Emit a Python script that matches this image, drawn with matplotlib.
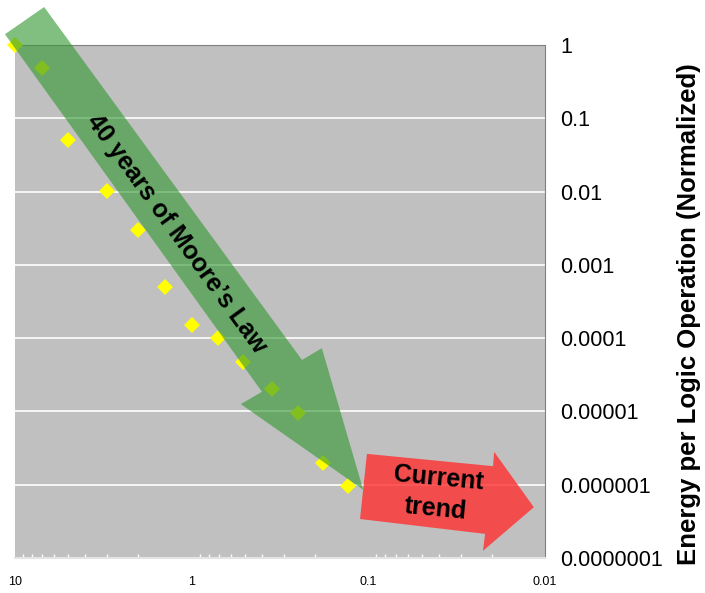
import matplotlib
matplotlib.use("Agg")
import matplotlib.pyplot as plt
from matplotlib.patches import Polygon
from matplotlib.ticker import FixedLocator, FixedFormatter, LogLocator, NullFormatter

plt.rcParams['font.family'] = ['Liberation Sans', 'DejaVu Sans']

# data
feature_size = [10, 7.0, 5.0, 3.0, 2.0, 1.42, 1.0, 0.71, 0.51, 0.35, 0.25, 0.18, 0.13]
energy = [1.0, 0.49, 0.05, 0.0102, 0.003, 5.0e-4, 1.5e-4, 1.0e-4, 4.8e-5, 2.0e-5, 9.5e-6, 2.0e-6, 9.6e-7]

x_ticks = [10, 1, 0.1, 0.01]
x_labels = ['10', '1', '0.1', '0.01']
y_ticks = [1, 0.1, 0.01, 0.001, 0.0001, 0.00001, 0.000001, 0.0000001]
y_labels = ['1', '0.1', '0.01', '0.001', '0.0001', '0.00001', '0.000001', '0.0000001']

# arrow outlines in axes fraction (annotation shapes)
green_arrow = [(-0.019, 1.021), (0.055, 1.074), (0.5415, 0.386), (0.579, 0.409),
               (0.657, 0.133), (0.426, 0.300), (0.466, 0.324)]
red_arrow = [(0.664, 0.203), (0.902, 0.179), (0.904, 0.207), (0.979, 0.099),
             (0.883, 0.014), (0.887, 0.047), (0.651, 0.076)]

fig = plt.figure(figsize=(7.05, 5.93), dpi=100)
ax = fig.add_axes([15/705, 35/593, 530/705, 513/593])
ax.set_facecolor('#c0c0c0')

ax.set_xscale('log')
ax.set_yscale('log')
ax.set_xlim(10, 0.01)
ax.set_ylim(1e-7, 1)

ax.plot(feature_size, energy, linestyle='none', marker='D', markersize=8.5,
        color='#ffff00', markeredgewidth=0, clip_on=False, zorder=3)

for y in y_ticks[1:-1]:
    ax.axhline(y, color='white', linewidth=1.2, zorder=1)

ax.yaxis.tick_right()
ax.yaxis.set_major_locator(FixedLocator(y_ticks))
ax.yaxis.set_major_formatter(FixedFormatter(y_labels))
ax.yaxis.set_minor_locator(FixedLocator([]))
ax.tick_params(axis='y', which='major', length=0, pad=11, labelsize=15.5)

ax.xaxis.set_major_locator(FixedLocator(x_ticks))
ax.xaxis.set_major_formatter(FixedFormatter(x_labels))
ax.xaxis.set_minor_locator(LogLocator(base=10, subs=range(2, 10)))
ax.xaxis.set_minor_formatter(NullFormatter())
ax.tick_params(axis='x', which='major', length=0, pad=13, labelsize=9)
ax.tick_params(axis='x', which='minor', direction='in', length=3, color='white', width=1)

ax.spines['top'].set_color('#808080')
ax.spines['right'].set_color('#808080')
ax.spines['left'].set_visible(False)
ax.spines['bottom'].set_color('#e4e4e4')
ax.spines['bottom'].set_linewidth(1.5)

ax.add_patch(Polygon(green_arrow, closed=True, transform=ax.transAxes,
                     facecolor='#339933', alpha=0.62, edgecolor='none',
                     clip_on=False, zorder=4))
ax.add_patch(Polygon(red_arrow, closed=True, transform=ax.transAxes,
                     facecolor='#ff3333', alpha=0.82, edgecolor='none',
                     clip_on=False, zorder=5))

ax.text(0.305, 0.632, "40 years of Moore\u2019s Law", transform=ax.transAxes,
        rotation=-54, rotation_mode='anchor', ha='center', va='center',
        fontsize=18, fontweight='bold', color='black', zorder=6)
ax.text(0.796, 0.125, "Current\ntrend", transform=ax.transAxes,
        rotation=-5.4, rotation_mode='anchor', ha='center', va='center',
        fontsize=18, fontweight='bold', color='black', linespacing=1.35, zorder=6)

fig.text(689/705, 1 - 314/593, "Energy per Logic Operation (Normalized)",
         rotation=90, ha='center', va='center', fontsize=18.5, fontweight='bold')

fig.savefig('out.png', dpi=100)
